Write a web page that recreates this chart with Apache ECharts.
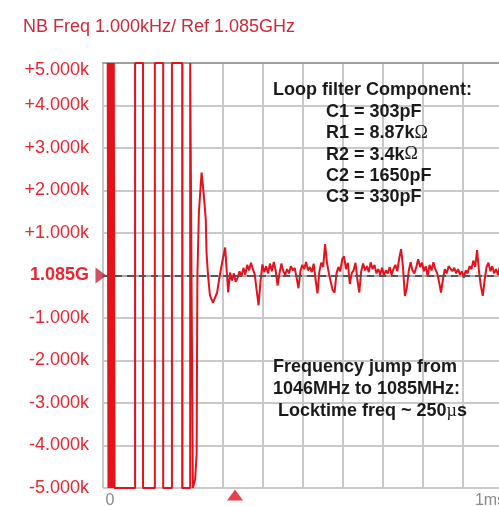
<!DOCTYPE html>
<html>
<head>
<meta charset="utf-8">
<script src="https://cdn.jsdelivr.net/npm/echarts@6/dist/echarts.min.js"></script>
<style>
  html, body { margin: 0; padding: 0; background: #ffffff; }
  #chart { width: 499px; height: 506px; }
</style>
</head>
<body>
<div id="chart"></div>
<script>
// Screen header
const headerText = 'NB Freq 1.000kHz/ Ref 1.085GHz';

// Vertical scale: offset from the 1.085 GHz reference, in kHz
const freqTicks = [-5, -4, -3, -2, -1, 0, 1, 2, 3, 4, 5];
const freqTickLabels = ['-5.000k', '-4.000k', '-3.000k', '-2.000k', '-1.000k', '1.085G',
                        '+1.000k', '+2.000k', '+3.000k', '+4.000k', '+5.000k'];

// Horizontal scale: time in µs, labelled at start and end of sweep
const timeTicks = [0, 1000];
const timeTickLabels = ['0', '1ms'];

// Frequency trace while the PLL slews (kHz offset, clipped at the screen edges)
const sweepTimeUs = [-6, -4, -2, 0, 2, 4, 6, 8, 10, 12,
                     66, 66, 87, 87, 118, 118, 140, 140, 163, 163, 190, 190, 211, 211, 216, 218,
                     224, 228, 229, 230, 234, 241, 247, 252, 254, 258, 263, 271, 276, 282, 287, 295, 303, 308];
const sweepFreqKHz = [5, -5, 5, -5, 5, -5, 5, -5, 5, -5,
                      -5, 5, 5, -5, -5, 5, 5, -5, -5, 5, 5, -5, -5, 5, 5, -5,
                      -4.8, -4.2, -2, 0, 1.5, 2.42, 1.88, 1.32, 0.54, 0, -0.47, -0.64, -0.6, -0.4, -0.1, 0.3, 0.66, 0.0];

// Frequency trace after lock
const lockTimeUs = [311, 316, 321, 326, 331, 336, 341, 346, 351, 356,
                    361, 366, 371, 376, 381, 386, 391, 396, 401, 406,
                    411, 416, 421, 426, 431, 436, 441, 446, 451, 456,
                    461, 466, 471, 476, 481, 486, 491, 496, 501, 506,
                    511, 516, 521, 526, 531, 536, 541, 546, 551, 556,
                    561, 566, 571, 576, 581, 586, 591, 596, 601, 606,
                    611, 616, 621, 626, 631, 636, 641, 646, 651, 656,
                    661, 666, 671, 676, 681, 686, 691, 696, 701, 706,
                    711, 716, 721, 726, 731, 736, 741, 746, 751, 756,
                    761, 766, 771, 776, 781, 786, 791, 796, 801, 806,
                    811, 816, 821, 826, 831, 836, 841, 846, 851, 856,
                    861, 866, 871, 876, 881, 886, 891, 896, 901, 906,
                    911, 916, 921, 926, 931, 936, 941, 946, 951, 956,
                    961, 966, 971, 976, 981, 986, 991, 996, 1001, 1006,
                    1011, 1016, 1021, 1026, 1031, 1036, 1041, 1046];
const lockFreqKHz = [-0.40, 0.07, -0.12, 0.05, -0.15, -0.05, 0.10, -0.02, 0.18, 0.02,
                     0.25, 0.12, 0.30, 0.15, 0.02, -0.35, -0.70, -0.15, 0.26, 0.08,
                     0.22, 0.05, 0.28, 0.10, 0.32, 0.12, -0.24, 0.05, 0.28, 0.10,
                     0.02, 0.15, 0.05, 0.22, 0.12, 0.18, -0.05, -0.30, 0.10, 0.25,
                     0.15, 0.32, 0.12, 0.20, 0.08, 0.28, -0.10, -0.42, 0.10, 0.30,
                     0.20, 0.74, 0.30, 0.05, -0.15, -0.35, -0.40, 0.05, 0.20, 0.10,
                     0.38, 0.45, 0.15, 0.30, -0.20, 0.05, 0.12, 0.30, -0.10, -0.40,
                     0.10, 0.28, 0.12, 0.22, 0.08, 0.31, 0.15, 0.25, 0.05, 0.15,
                     0.02, 0.18, 0.00, 0.12, 0.05, 0.20, 0.02, 0.15, 0.25, 0.10,
                     0.40, 0.62, 0.20, -0.48, -0.30, 0.10, 0.31, 0.12, 0.05, 0.20,
                     0.38, 0.20, 0.30, 0.10, 0.22, -0.02, 0.25, 0.12, 0.31, 0.15,
                     0.05, -0.15, -0.40, -0.10, 0.15, 0.05, 0.22, 0.25, 0.10, 0.18,
                     0.05, 0.15, 0.02, 0.10, -0.05, 0.12, 0.05, 0.22, 0.15, 0.35,
                     0.20, 0.60, 0.10, -0.25, -0.48, -0.10, 0.20, 0.30, 0.10, 0.22,
                     0.05, 0.15, 0.02, 0.20, 0.08, 0.12, 0.02, 0.15];

// Reference level marker and time marker
const refLevelKHz = [0];
const markerTimeUs = [329];

// Annotations
const loopFilterLines = ['C1 = 303pF', 'R1 = 8.87k{s|Ω}', 'R2 = 3.4k{s|Ω}', 'C2 = 1650pF', 'C3 = 330pF'];
const jumpLines = ['Frequency jump from', '1046MHz to 1085MHz:', ' Locktime freq ~ 250{s|µ}s'];

const RED = '#ec2533';
const GRID = '#c9c9c9';

const trace = [];
sweepTimeUs.forEach((t, i) => trace.push([t, sweepFreqKHz[i]]));
lockTimeUs.forEach((t, i) => trace.push([t, lockFreqKHz[i]]));

const chart = echarts.init(document.getElementById('chart'));

const boldFont = 'bold 18px "Liberation Sans", Arial, sans-serif';
const symbolRich = { s: { font: '18px "Liberation Serif", serif', fill: '#1a1a1a' } };
const graphics = [
  { type: 'text', z: 100, left: 23, top: 18, style: { text: headerText, font: '18px "Liberation Sans", Arial, sans-serif', fill: '#cc2a3c' } },
  { type: 'text', z: 100, left: 273, top: 81, style: { text: 'Loop filter Component:', font: boldFont, fill: '#1a1a1a' } }
];
loopFilterLines.forEach((line, i) => {
  graphics.push({ type: 'text', z: 100, left: 326, top: 103 + i * 21.3,
    style: { text: line, font: boldFont, fill: '#1a1a1a', rich: symbolRich } });
});
jumpLines.forEach((line, i) => {
  graphics.push({ type: 'text', z: 100, left: 273, top: 358 + i * 22,
    style: { text: line, font: boldFont, fill: '#1a1a1a', rich: symbolRich } });
});

chart.setOption({
  animation: false,
  backgroundColor: '#ffffff',
  grid: { left: 103, top: 63, right: -4, bottom: 18, containLabel: false, outerBoundsMode: 'none' },
  xAxis: [
    {
      type: 'value',
      min: -18.42,
      max: 1034.2,
      position: 'bottom',
      axisLine: { show: true, lineStyle: { color: '#a9a9a9', width: 2 } },
      axisTick: { show: false },
      splitLine: { show: false },
      axisLabel: {
        customValues: timeTicks,
        formatter: v => timeTickLabels[timeTicks.indexOf(v)],
        color: '#8a8a8a',
        fontSize: 16,
        fontFamily: '"Liberation Sans", Arial, sans-serif',
        margin: 5
      }
    },
    {
      // division grid, ten columns across the screen
      type: 'value',
      min: -3,
      max: 7,
      interval: 1,
      position: 'top',
      axisLine: { show: true, lineStyle: { color: '#a0a0a0', width: 2 } },
      axisTick: { show: false },
      axisLabel: { show: false },
      splitLine: { show: true, lineStyle: { color: GRID, width: 2 } }
    }
  ],
  yAxis: {
    type: 'value',
    min: -5,
    max: 5,
    interval: 1,
    axisLine: { show: false },
    axisTick: { show: false },
    splitLine: { show: true, lineStyle: { color: GRID, width: 2 } },
    axisLabel: {
      margin: 14,
      color: RED,
      fontSize: 18,
      fontFamily: '"Liberation Sans", Arial, sans-serif',
      formatter: v => {
        const label = freqTickLabels[freqTicks.indexOf(v)];
        if (v === 0) return '{b|' + label + '}';
        if (v === 5) return '{t|' + label + '}';
        return label;
      },
      rich: {
        b: { fontWeight: 'bold', fontSize: 18, color: RED, fontFamily: '"Liberation Sans", Arial, sans-serif' },
        t: { fontSize: 18, color: RED, padding: [14, 0, 0, 0], fontFamily: '"Liberation Sans", Arial, sans-serif' }
      }
    }
  },
  graphic: graphics,
  series: [
    {
      name: 'Reference',
      type: 'scatter',
      xAxisIndex: 0,
      z: 1,
      clip: false,
      symbol: 'triangle',
      symbolSize: [16, 11],
      symbolRotate: -90,
      symbolOffset: [-9, 0],
      itemStyle: { color: '#c0283a' },
      data: refLevelKHz.map(f => [0, f]),
      markLine: {
        silent: true,
        symbol: 'none',
        label: { show: false },
        lineStyle: { color: '#555555', width: 2, type: [7, 5] },
        data: refLevelKHz.map(f => ({ yAxis: f }))
      }
    },
    {
      name: 'Frequency',
      type: 'line',
      xAxisIndex: 0,
      z: 3,
      showSymbol: false,
      clip: true,
      lineStyle: { color: '#e3121c', width: 2 },
      data: trace
    },
    {
      name: 'Marker',
      type: 'scatter',
      xAxisIndex: 0,
      z: 4,
      clip: false,
      symbol: 'triangle',
      symbolSize: [16, 11],
      symbolOffset: [0, 7],
      itemStyle: { color: '#e3121c' },
      data: markerTimeUs.map(t => [t, -5])
    }
  ]
});
</script>
</body>
</html>
